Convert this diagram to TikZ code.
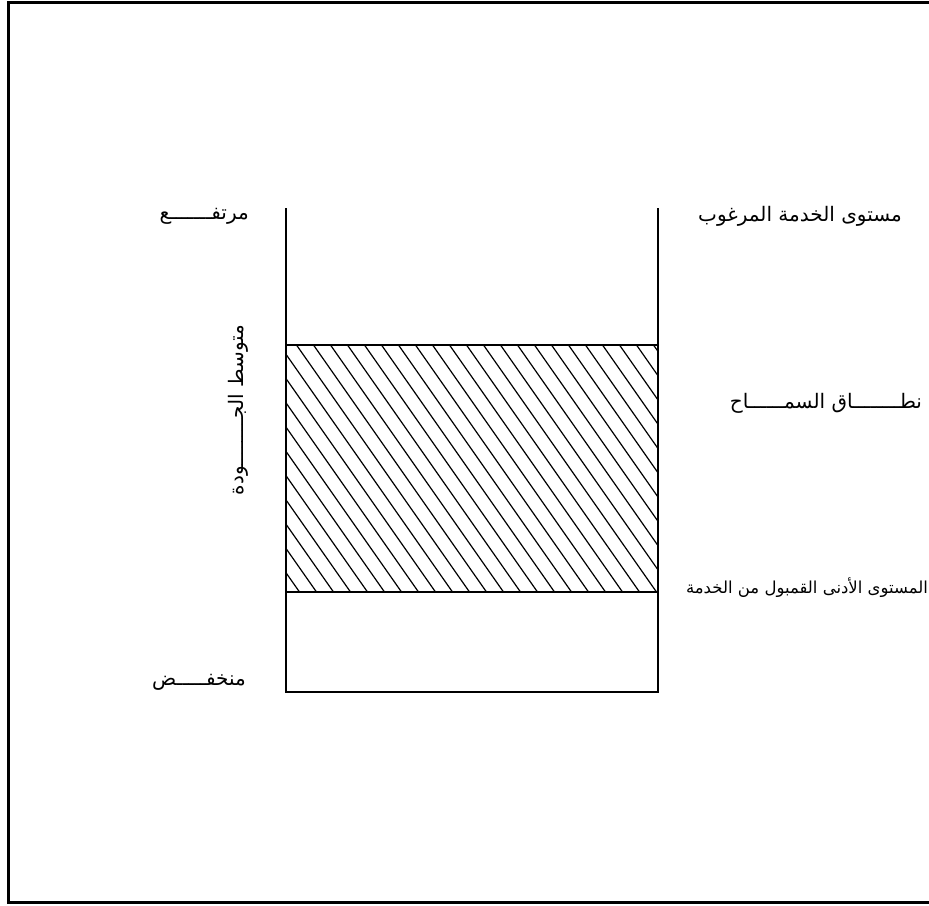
\documentclass[tikz,border=0pt]{standalone}
\usepackage{fontspec}
\TeXXeTstate=1
\newfontfamily\arabicfont[Script=Arabic]{DejaVu Sans}
\begin{document}
\begin{tikzpicture}[x=1pt,y=-1pt,
  lbl/.style={inner sep=0pt,font=\arabicfont\fontsize{20}{24}\selectfont},
  smalllbl/.style={inner sep=0pt,font=\arabicfont\fontsize{16.5}{20}\selectfont},
  frame/.style={line width=3pt},
  bar/.style={line width=2.4pt},
  hatch/.style={line width=1.2pt}]
\useasboundingbox (0,0) rectangle (929,905);
\draw[frame] (8,2) rectangle (945,902);
% coordinates
\coordinate (lt) at (286,208);
\coordinate (rt) at (658,208);
\coordinate (lb) at (286,692);
\coordinate (rb) at (658,692);
\coordinate (hl) at (286,345);
\coordinate (hr) at (658,345);
\coordinate (ll) at (286,592);
\coordinate (lr) at (658,592);
% hatching
\begin{scope}
\clip (hl) rectangle (lr);
\foreach \x in {0,17,...,600}{
  \draw[hatch] (286-180+\x,340) -- (286-180+\x+180,597);
}
\end{scope}
\draw[bar] (lt) -- (lb) -- (rb) -- (rt);
\draw[bar] (hl) -- (hr);
\draw[bar] (ll) -- (lr);
% labels
\node[lbl,anchor=east] (high) at (249,216) {\beginR مرتفـــــــع\endR};
\node[lbl,anchor=east] (low) at (246,682) {\beginR منخفـــــض\endR};
\node[lbl,rotate=90] (mid) at (238,410) {\beginR متوسط الجــــــــودة\endR};
\node[lbl] (desired) at (800,216) {\beginR مستوى الخدمة المرغوب\endR};
\node[lbl] (tol) at (826,403) {\beginR نطــــــــاق السمــــــاح\endR};
\node[smalllbl] (minlvl) at (807,588) {\beginR المستوى الأدنى القمبول من الخدمة\endR};
\end{tikzpicture}
\end{document}
